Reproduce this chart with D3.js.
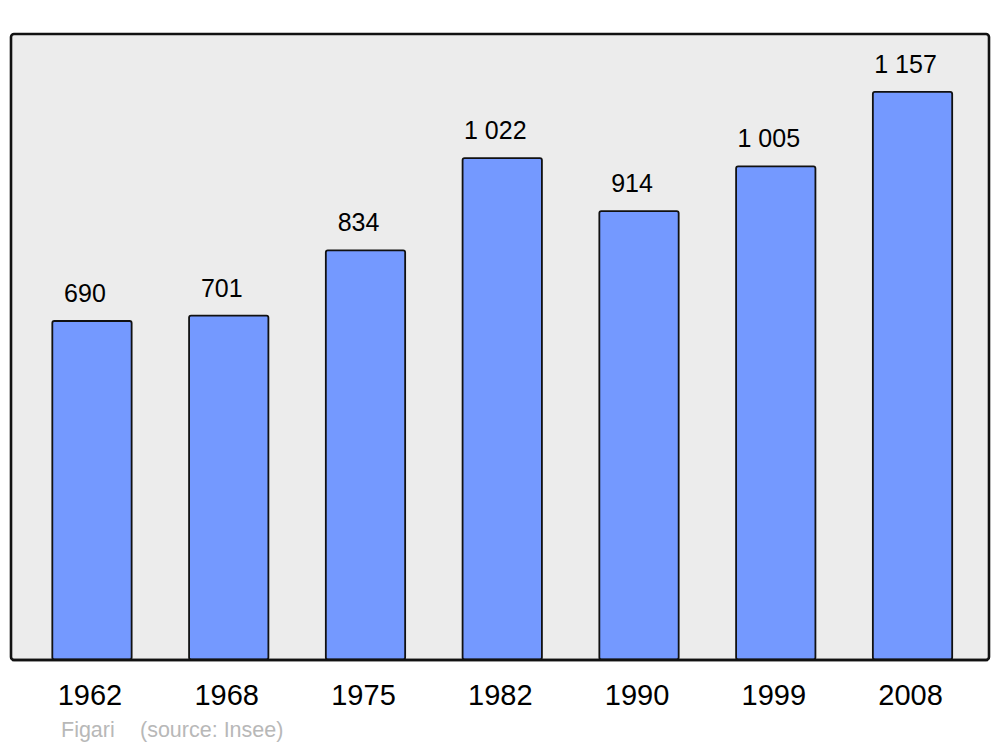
<!DOCTYPE html>
<html><head><meta charset="utf-8">
<script src="https://cdn.jsdelivr.net/npm/d3@7"></script>
<style>body{margin:0;background:#fff}svg{display:block}text{font-family:"Liberation Sans",Arial,sans-serif}</style>
</head><body>
<svg id="c" width="1000" height="747"></svg>
<script>
const years = ["1962","1968","1975","1982","1990","1999","2008"];
const population = [690, 701, 834, 1022, 914, 1005, 1157];
const valueLabels = ["690","701","834","1 022","914","1 005","1 157"];
const sourceText = ["Figari", "(source: Insee)"];

const svg = d3.select("#c");
const x = d3.scaleBand().domain(years).range([23.6, 980.9]).paddingInner(0.42).paddingOuter(0.21);
const y = d3.scaleLinear().domain([0, 1275]).range([659.5, 34]);

svg.append("rect").attr("x", 11).attr("y", 34).attr("width", 978).attr("height", 626)
  .attr("rx", 3).attr("fill", "#ececec").attr("stroke", "#111").attr("stroke-width", 2.6);

const g = svg.append("g");
g.selectAll("rect.bar").data(population).join("rect").attr("class","bar")
  .attr("x", (d,i) => x(years[i]))
  .attr("y", d => y(d))
  .attr("width", x.bandwidth())
  .attr("height", d => y(0) - y(d))
  .attr("rx", 2)
  .attr("fill", "#7499ff").attr("stroke", "#111").attr("stroke-width", 1.8);

svg.append("line").attr("x1", 12).attr("x2", 988).attr("y1", 660).attr("y2", 660)
  .attr("stroke", "#111").attr("stroke-width", 2.6);

g.selectAll("text.val").data(population).join("text").attr("class","val")
  .attr("x", (d,i) => x(years[i]) + x.bandwidth()/2 - 7)
  .attr("y", d => y(d) - 19)
  .attr("text-anchor", "middle").attr("font-size", 25).attr("fill", "#000")
  .text((d,i) => valueLabels[i]);

const xAxis = d3.axisBottom(x).tickSize(0).tickPadding(0);
const ax = svg.append("g").attr("transform", "translate(-2,705)").call(xAxis);
ax.select(".domain").remove();
ax.selectAll("text").attr("font-size", 29).attr("fill", "#000").attr("dy", 0)
  .attr("font-family", "Liberation Sans, Arial, sans-serif");

svg.append("text").attr("x", 61).attr("y", 737).attr("font-size", 21.5).attr("fill", "#b8b8b8").text(sourceText[0]);
svg.append("text").attr("x", 140).attr("y", 737).attr("font-size", 21.5).attr("fill", "#b8b8b8").text(sourceText[1]);
</script>
</body></html>
